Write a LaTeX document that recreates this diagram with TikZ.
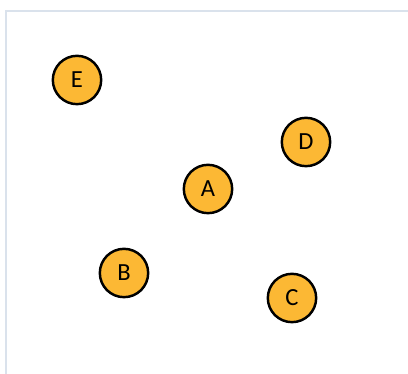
\documentclass[tikz,border=0pt]{standalone}
\usepackage{fontspec}
\setmainfont{Carlito}
\definecolor{nodefill}{RGB}{252,184,52}
\definecolor{framegray}{RGB}{218,226,236}
\tikzset{
    vertex/.style={circle, draw=black, line width=2.1pt, fill=nodefill,
        minimum size=1.45cm, inner sep=0pt, font=\fontsize{21}{21}\selectfont}
}
\begin{document}
\begin{tikzpicture}[x=0.03cm, y=-0.03cm]
    % =========================================================
    % Cornice
    % =========================================================
    \useasboundingbox (0,0) rectangle (408,374);
    \draw[framegray, line width=1pt] (6,374) -- (6,11) -- (408,11);

    % =========================================================
    % Vertici
    % =========================================================
    \node[vertex] (A) at (208,189) {A};
    \node[vertex] (B) at (124,273) {B};
    \node[vertex] (C) at (292,298) {C};
    \node[vertex] (D) at (306,142) {D};
    \node[vertex] (E) at (77,80) {E};
\end{tikzpicture}
\end{document}
